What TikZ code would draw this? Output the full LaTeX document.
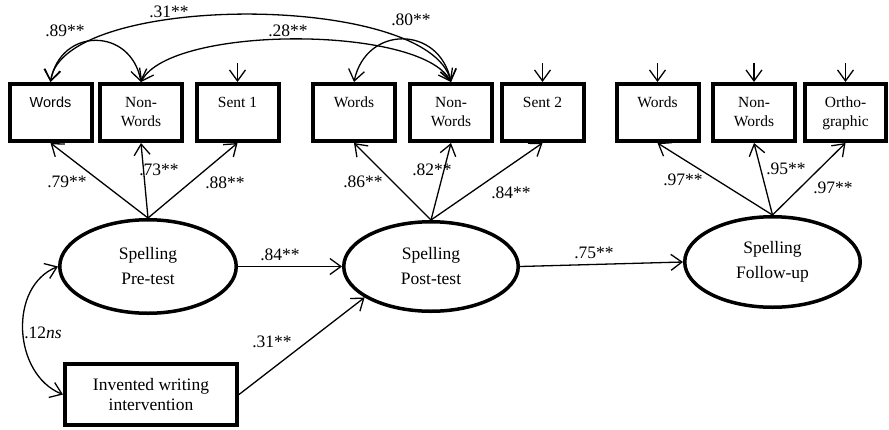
\documentclass[tikz,border=0pt]{standalone}
\usepackage{fontspec}
\setmainfont{Liberation Serif}
\newfontfamily\arialf{Liberation Sans}
\usetikzlibrary{shapes.geometric,arrows.meta}
\begin{document}
\begin{tikzpicture}[x=1pt,y=-1pt,
 obs/.style={draw, line width=4pt, minimum width=82pt, minimum height=57pt, inner sep=0pt},
 lat/.style={draw, ellipse, line width=3.5pt, inner sep=0pt, align=center, font=\fontsize{17.5}{25}\selectfont},
 btext/.style={anchor=north, inner sep=0pt, align=center, font=\fontsize{15.5}{19}\selectfont},
 coef/.style={inner sep=0pt, font=\fontsize{17.5}{20}\selectfont},
 tip/.tip={Straight Barb[length=11pt,width=16pt]},
 arr/.style={line width=1.3pt, -tip},
 darr/.style={line width=1.3pt, tip-tip},
]
\useasboundingbox (0,0) rectangle (889,429);

% observed boxes
\node[obs] (w1) at (50.5,112.5) {};
\node[obs] (nw1) at (141,112.5) {};
\node[obs] (s1) at (237.5,112.5) {};
\node[obs] (w2) at (354,112.5) {};
\node[obs] (nw2) at (451,112.5) {};
\node[obs] (s2) at (542.5,112.5) {};
\node[obs] (w3) at (657.5,112.5) {};
\node[obs] (nw3) at (754,112.5) {};
\node[obs, minimum width=81pt] (o3) at (845.5,112.5) {};

\node[btext, font=\arialf\fontsize{14.5}{19}\selectfont] (tw1) at ([yshift=-15pt]w1.north) {Words};
\node[btext] (tnw1) at ([yshift=-15pt]nw1.north) {Non-\\Words};
\node[btext] (ts1) at ([yshift=-15pt]s1.north) {Sent 1};
\node[btext] (tw2) at ([yshift=-15pt]w2.north) {Words};
\node[btext] (tnw2) at ([yshift=-15pt]nw2.north) {Non-\\Words};
\node[btext] (ts2) at ([yshift=-15pt]s2.north) {Sent 2};
\node[btext] (tw3) at ([yshift=-15pt]w3.north) {Words};
\node[btext] (tnw3) at ([yshift=-15pt]nw3.north) {Non-\\Words};
\node[btext] (to3) at ([yshift=-15pt]o3.north) {Ortho-\\graphic};

% latent variables
\node[lat, minimum width=176.5pt, minimum height=93.5pt] (pre) at (148,266.5) {Spelling\\Pre-test};
\node[lat, minimum width=174.5pt, minimum height=89.5pt] (post) at (431,266.5) {Spelling\\Post-test};
\node[lat, minimum width=175.5pt, minimum height=90.5pt] (fol) at (772.5,262) {Spelling\\Follow-up};

% intervention
\node[draw, line width=4pt, minimum width=172pt, minimum height=61pt, inner sep=0pt, align=center,
      font=\fontsize{17.5}{20}\selectfont] (inv) at (151,394.5) {Invented writing\\intervention};

% loadings
\draw[arr] (pre.north) -- (w1.south);
\draw[arr] (pre.north) -- (nw1.south);
\draw[arr] (pre.north) -- (s1.south);
\draw[arr] (post.north) -- (w2.south);
\draw[arr] (post.north) -- (nw2.south);
\draw[arr] (post.north) -- (s2.south);
\draw[arr] (fol.north) -- (w3.south);
\draw[arr] (fol.north) -- (nw3.south);
\draw[arr] (fol.north) -- (o3.south);

% error arrows
\draw[arr] ([yshift=19pt]s1.north) -- (s1.north);
\draw[arr] ([yshift=19pt]s2.north) -- (s2.north);
\draw[arr] ([yshift=19pt]w3.north) -- (w3.north);
\draw[arr] ([yshift=19pt]nw3.north) -- (nw3.north);
\draw[arr] ([yshift=19pt]o3.north) -- (o3.north);

% structural paths
\draw[arr] (pre.east) -- (post.west);
\draw[arr] (post.east) -- (fol.west);
\draw[arr] (inv.east) -- (post.205.8);

% covariances
\draw[darr] (w1.north) .. controls +(10,-55) and +(-10,-55) .. (nw1.north);
\draw[darr] (w1.north) .. controls +(12,-90) and +(-22,-90) .. (nw2.north);
\draw[darr] (nw1.north) .. controls +(30,-57) and +(-30,-57) .. (nw2.north);
\draw[darr] (w2.north) .. controls +(12,-57) and +(-12,-57) .. (nw2.north);
\draw[darr] (pre.west) .. controls +(-50,20) and +(-50,-20) .. (inv.west);

% coefficients
\node[coef] (c89) at (65,31) {.89**};
\node[coef] (c31a) at (169,12) {.31**};
\node[coef] (c28) at (288,31) {.28**};
\node[coef] (c80) at (411,20) {.80**};
\node[coef] (c79) at (67,182) {.79**};
\node[coef] (c73) at (159,170) {.73**};
\node[coef] (c88) at (225,183) {.88**};
\node[coef] (c86) at (363,182) {.86**};
\node[coef] (c82) at (432,170) {.82**};
\node[coef] (c84a) at (511,193) {.84**};
\node[coef] (c97a) at (683,180) {.97**};
\node[coef] (c95) at (786,169) {.95**};
\node[coef] (c97b) at (833,188) {.97**};
\node[coef] (c84b) at (280,255) {.84**};
\node[coef] (c75) at (594,253) {.75**};
\node[coef] (c31b) at (272,342) {.31**};
\node[coef] (c12) at (43,333) {.12\textit{ns}};
\end{tikzpicture}
\end{document}
